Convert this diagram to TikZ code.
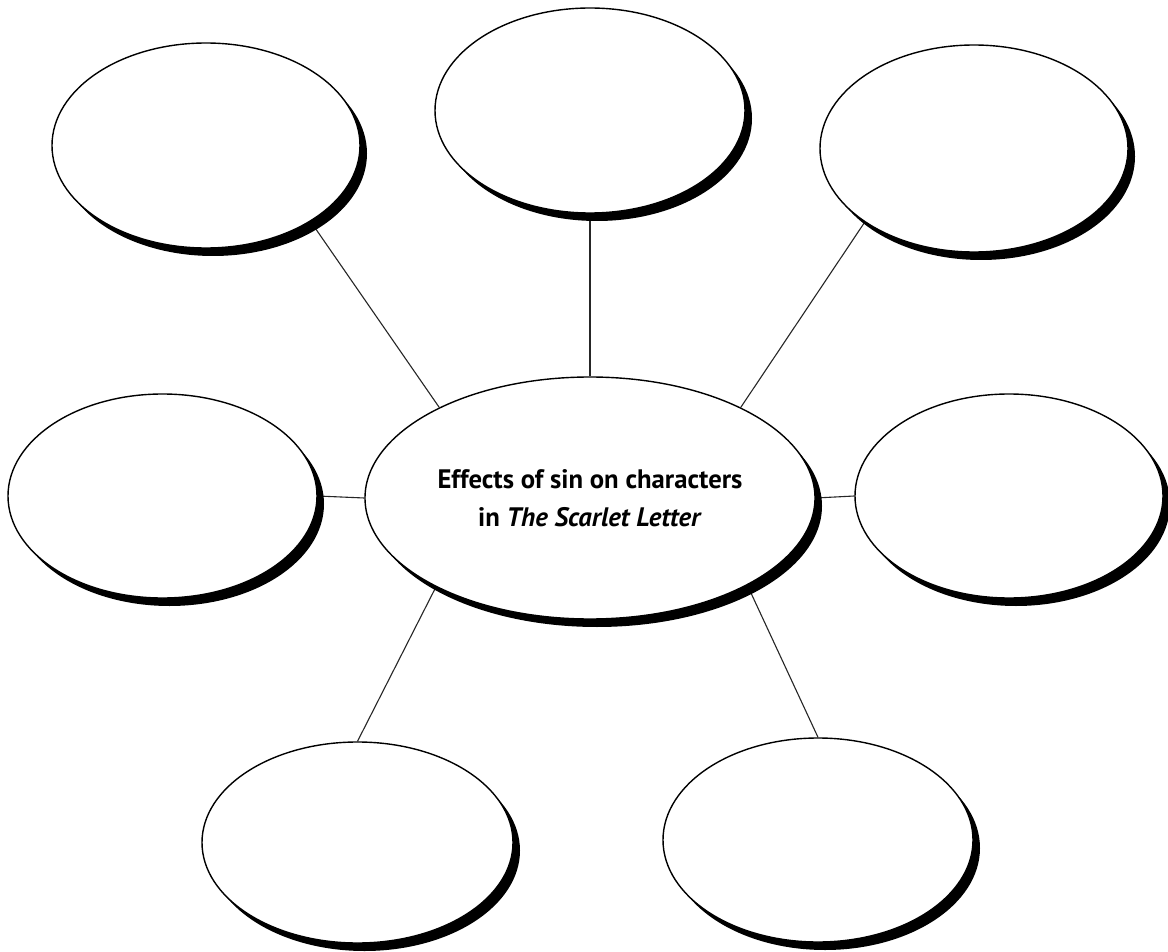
\documentclass[tikz,border=0pt]{standalone}
\usepackage{fontspec}
\setmainfont{PT Sans}
\usetikzlibrary{shapes.geometric,shadows,backgrounds}
\begin{document}
\begin{tikzpicture}[x=1pt,y=-1pt,
  bubble/.style={ellipse, draw=black, line width=1.4pt, fill=white, inner sep=0pt,
    drop shadow={shadow xshift=7pt, shadow yshift=-8pt, fill=black, opacity=1}},
  link/.style={draw=black!85, line width=1.1pt},
  title/.style={font=\fontsize{26.7}{38}\selectfont\bfseries, align=center}]
\useasboundingbox (0,0) rectangle (1168,952);
\node[bubble, minimum width=450pt, minimum height=242pt, title] (c) at (590,498)
  {Effects of sin on characters\\ in \textit{The Scarlet Letter}};
\node[bubble, minimum width=308pt, minimum height=205pt] (tl) at (206,145.5) {};
\node[bubble, minimum width=310pt, minimum height=205pt] (tc) at (590,110.5) {};
\node[bubble, minimum width=308pt, minimum height=207pt] (tr) at (974,148.5) {};
\node[bubble, minimum width=309pt, minimum height=204pt] (ml) at (162.5,496) {};
\node[bubble, minimum width=308pt, minimum height=204pt] (mr) at (1009,496) {};
\node[bubble, minimum width=311pt, minimum height=201pt] (bl) at (357.5,842.5) {};
\node[bubble, minimum width=310pt, minimum height=204pt] (br) at (818,840) {};
\begin{pgfonlayer}{background}
\fill[white] (0,0) rectangle (1168,952);
\draw[link] (tl.-36) -- (c.149);
\draw[link] (tc.south) -- (c.north);
\draw[link] (tr.214.6) -- (c.31.4);
\draw[link] (ml.east) -- (c.west);
\draw[link] (c.east) -- (mr.west);
\draw[link] (bl.north) -- (c.210.2);
\draw[link] (br.north) -- (c.-29.7);
\end{pgfonlayer}
\end{tikzpicture}
\end{document}
